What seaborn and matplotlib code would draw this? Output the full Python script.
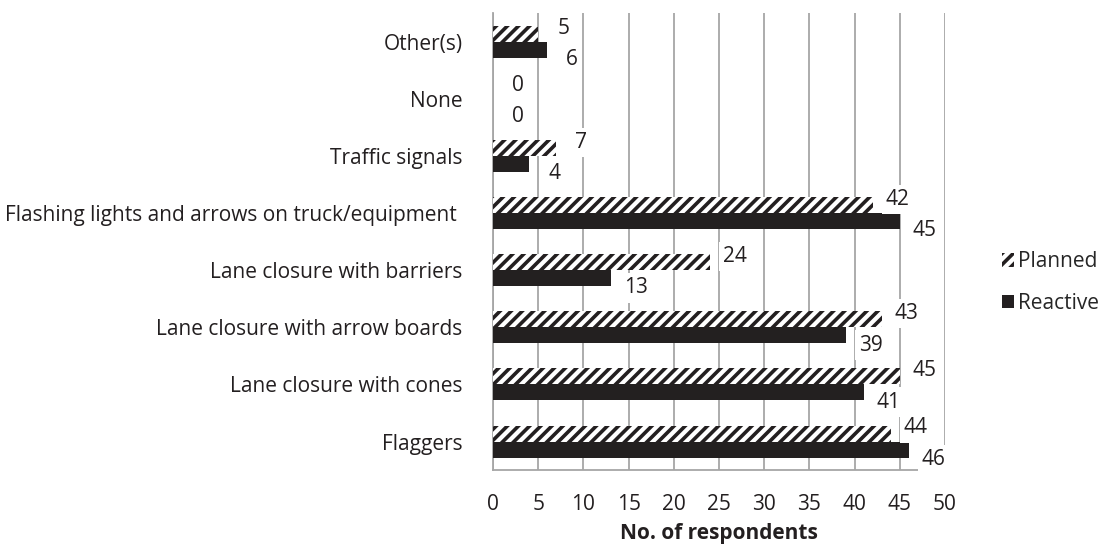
import matplotlib
matplotlib.use("Agg")
import matplotlib.pyplot as plt
import matplotlib.patches as mpatches
import pandas as pd
import seaborn as sns

# categories listed top to bottom, as drawn
CATEGORIES = [
    "Other(s)",
    "None",
    "Traffic signals",
    "Flashing lights and arrows on truck/equipment ",
    "Lane closure with barriers",
    "Lane closure with arrow boards",
    "Lane closure with cones",
    "Flaggers",
]
PLANNED = [5, 0, 7, 42, 24, 43, 45, 44]
REACTIVE = [6, 0, 4, 45, 13, 39, 41, 46]
SERIES = ["Planned", "Reactive"]
X_TICKS = list(range(0, 51, 5))

df = pd.DataFrame({
    "category": CATEGORIES * 2,
    "series": ["Planned"] * len(CATEGORIES) + ["Reactive"] * len(CATEGORIES),
    "value": PLANNED + REACTIVE,
})

INK = "#231f20"
GRID = "#a6a6a6"
FS = 15

sns.set_style("white")
plt.rcParams["font.family"] = ["Open Sans", "DejaVu Sans"]
plt.rcParams["hatch.linewidth"] = 2.6

fig = plt.figure(figsize=(10.99, 5.46), dpi=100)
ax = fig.add_axes([0.4486, 0.139, 0.4113, 0.837])

sns.barplot(data=df, x="value", y="category", hue="series",
            order=CATEGORIES, hue_order=SERIES, orient="h",
            palette={"Planned": "white", "Reactive": INK},
            width=0.56, gap=0, legend=False, ax=ax, zorder=3)

n = len(CATEGORIES)
for i, bar in enumerate(ax.patches):
    bar.set_linewidth(0)
    if i < n:  # planned bars get the diagonal pattern
        bar.set_facecolor("white")
        bar.set_edgecolor(INK)
        bar.set_hatch("///")

# data labels, white boxes break the gridlines like in Excel
for i, bar in enumerate(ax.patches):
    val = bar.get_width()
    yc = bar.get_y() + bar.get_height() / 2
    dy = 4 if i < n else -7
    ax.annotate(f"{int(val)}", (val, yc), xytext=(18, dy),
                textcoords="offset points", ha="center", va="center",
                fontsize=FS, color=INK, zorder=4,
                bbox=dict(boxstyle="square,pad=0.2", fc="white", ec="none"))

ax.set_xlim(0, 50)
ax.set_ylim(n - 0.5, -0.5)
ax.set_xticks(X_TICKS)
ax.set_xticklabels([str(t) for t in X_TICKS], fontsize=FS, color=INK)
ax.set_yticks([i - 0.5 for i in range(n + 1)])
ax.set_yticklabels([])
ax.set_yticks(range(n), minor=True)
ax.set_yticklabels(CATEGORIES, minor=True, fontsize=FS, color=INK)
ax.tick_params(axis="y", which="minor", length=0, pad=22)
ax.tick_params(axis="y", which="major", length=5, color=GRID, width=1.2)
ax.tick_params(axis="x", length=5, color=GRID, width=1.2, pad=12)

ax.grid(axis="x", color=GRID, linewidth=1.3, zorder=0)
ax.set_axisbelow(True)
for side in ["top", "right"]:
    ax.spines[side].set_visible(False)
for side in ["left", "bottom"]:
    ax.spines[side].set_color(GRID)
    ax.spines[side].set_linewidth(1.3)

ax.set_xlabel("No. of respondents", fontsize=FS, fontweight="bold",
              color=INK, labelpad=6)
ax.set_ylabel("")

handles = [
    mpatches.Patch(facecolor="white", edgecolor=INK, hatch="///", linewidth=0, label="Planned"),
    mpatches.Patch(facecolor=INK, edgecolor=INK, linewidth=0, label="Reactive"),
]
ax.legend(handles=handles, loc="center left", bbox_to_anchor=(1.125, 0.41),
          frameon=False, fontsize=FS, handlelength=0.6, handleheight=0.6,
          handletextpad=0.2, labelspacing=1.0, borderaxespad=0, borderpad=0)

fig.savefig("out.png", dpi=100)
